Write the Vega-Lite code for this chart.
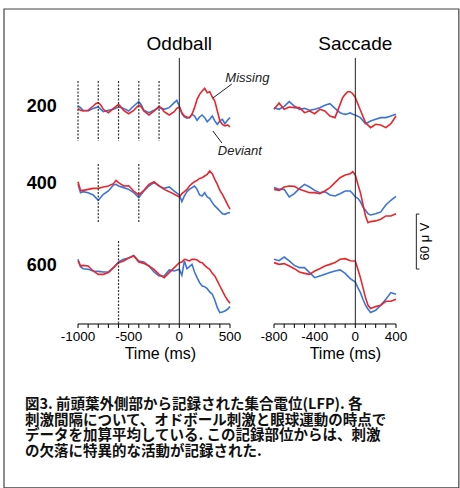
{
"$schema":"https://vega.github.io/schema/vega-lite/v6.json",
"padding":0,
"background":"white",
"spacing":44,
"bounds":"flush",
"config":{"view":{"stroke":null},"font":"Liberation Sans"},
"datasets":{
"o200":[
{"t":-1000,"m":-1.5,"d":1.1},{"t":-975,"m":-3.6,"d":-0.7},{"t":-950,"m":-4.4,"d":-3.6},{"t":-900,"m":-3.6,"d":-4.4},{"t":-850,"m":1.1,"d":-1.5},{"t":-825,"m":3.6,"d":-0.7},{"t":-800,"m":4.7,"d":0},{"t":-775,"m":2.2,"d":-2.5},{"t":-750,"m":-2.5,"d":-5.1},{"t":-700,"m":-6.2,"d":-3.6},{"t":-650,"m":-1.5,"d":-2.5},{"t":-600,"m":2.9,"d":0},{"t":-575,"m":0,"d":-0.7},{"t":-550,"m":-3.6,"d":-1.5},{"t":-500,"m":-7.3,"d":-4.4},{"t":-450,"m":-3.6,"d":1.1},{"t":-400,"m":2.2,"d":5.8},{"t":-375,"m":0,"d":2.2},{"t":-350,"m":-4.4,"d":-3.6},{"t":-300,"m":-8.7,"d":-6.2},{"t":-250,"m":-4.4,"d":-3.6},{"t":-200,"m":0.7,"d":-0.7},{"t":-175,"m":-1.5,"d":-1.5},{"t":-150,"m":-5.1,"d":-2.5},{"t":-100,"m":-8.7,"d":-0.7},{"t":-50,"m":-5.1,"d":4.7},{"t":-25,"m":-1.5,"d":7.3},{"t":0,"m":0,"d":1.1},{"t":25,"m":-6.2,"d":-7.3},{"t":50,"m":-9.8,"d":-10.9},{"t":75,"m":-10.9,"d":-12.3},{"t":100,"m":-11.6,"d":-11.6},{"t":125,"m":-8.0,"d":-8.0},{"t":150,"m":-0.7,"d":-9.8},{"t":175,"m":8.3,"d":-14.5},{"t":200,"m":13.8,"d":-10.9},{"t":225,"m":17.4,"d":-8.7},{"t":250,"m":20.3,"d":-11.6},{"t":275,"m":15.6,"d":-16.0},{"t":300,"m":16.7,"d":-13.4},{"t":325,"m":10.9,"d":-9.8},{"t":350,"m":6.5,"d":-15.2},{"t":375,"m":-4.4,"d":-18.9},{"t":400,"m":-15.2,"d":-15.2},{"t":425,"m":-18.9,"d":-13.4},{"t":450,"m":-20.7,"d":-18.2},{"t":475,"m":-19.6,"d":-14.5},{"t":500,"m":-21.8,"d":-11.6}],
"o400":[
{"t":-1000,"m":8.0,"d":5.1},{"t":-975,"m":-1.5,"d":-4.0},{"t":-950,"m":-1.5,"d":-2.9},{"t":-900,"m":-0.4,"d":-4.0},{"t":-850,"m":0.7,"d":-6.5},{"t":-800,"m":0.7,"d":-12.3},{"t":-750,"m":2.2,"d":-5.8},{"t":-700,"m":3.3,"d":-2.2},{"t":-650,"m":5.8,"d":4.4},{"t":-625,"m":9.4,"d":5.1},{"t":-600,"m":6.9,"d":3.3},{"t":-550,"m":3.3,"d":1.5},{"t":-500,"m":3.6,"d":-0.4},{"t":-450,"m":-2.2,"d":-4.0},{"t":-400,"m":-6.5,"d":-9.4},{"t":-350,"m":-1.5,"d":-2.2},{"t":-300,"m":5.1,"d":3.3},{"t":-250,"m":8.0,"d":6.9},{"t":-200,"m":3.3,"d":3.3},{"t":-150,"m":-0.4,"d":0.7},{"t":-100,"m":-2.9,"d":2.2},{"t":-50,"m":-5.8,"d":-2.2},{"t":0,"m":-8.7,"d":-6.5},{"t":25,"m":-5.1,"d":-13.8},{"t":50,"m":-2.9,"d":-7.6},{"t":75,"m":-0.4,"d":-2.9},{"t":100,"m":3.3,"d":-0.4},{"t":125,"m":5.8,"d":1.5},{"t":150,"m":8.0,"d":3.3},{"t":175,"m":9.4,"d":-0.4},{"t":200,"m":11.6,"d":-6.5},{"t":225,"m":12.3,"d":-7.6},{"t":250,"m":14.2,"d":-4.0},{"t":275,"m":16.0,"d":-8.7},{"t":300,"m":19.6,"d":-10.2},{"t":325,"m":16.7,"d":-14.9},{"t":350,"m":10.5,"d":-18.5},{"t":375,"m":5.1,"d":-21.1},{"t":400,"m":-1.5,"d":-24.0},{"t":425,"m":-5.8,"d":-26.9},{"t":450,"m":-11.3,"d":-27.6},{"t":475,"m":-16.7,"d":-26.1},{"t":500,"m":-22.1,"d":-25.8}],
"o600":[
{"t":-1000,"m":3.3,"d":5.1},{"t":-975,"m":-2.2,"d":-2.9},{"t":-950,"m":-1.5,"d":-5.1},{"t":-900,"m":-2.2,"d":-5.8},{"t":-850,"m":-7.6,"d":-7.6},{"t":-800,"m":-11.3,"d":-8.0},{"t":-750,"m":-11.3,"d":-8.7},{"t":-700,"m":-9.4,"d":-8.7},{"t":-650,"m":-4.0,"d":-4.0},{"t":-600,"m":1.5,"d":2.2},{"t":-550,"m":3.3,"d":5.1},{"t":-500,"m":6.5,"d":6.5},{"t":-450,"m":8.7,"d":9.4},{"t":-400,"m":2.2,"d":3.3},{"t":-350,"m":0.7,"d":2.2},{"t":-300,"m":-2.2,"d":-2.2},{"t":-250,"m":-5.8,"d":-8.7},{"t":-200,"m":-11.3,"d":-13.1},{"t":-150,"m":-14.9,"d":-13.1},{"t":-100,"m":-9.4,"d":-6.5},{"t":-50,"m":-4.0,"d":-7.6},{"t":0,"m":1.5,"d":-5.8},{"t":25,"m":2.2,"d":-12.3},{"t":50,"m":5.1,"d":3.3},{"t":75,"m":4.4,"d":-5.1},{"t":100,"m":3.3,"d":-2.9},{"t":125,"m":5.1,"d":-0.4},{"t":150,"m":5.1,"d":-8.7},{"t":175,"m":4.4,"d":-14.9},{"t":200,"m":2.2,"d":-20.3},{"t":225,"m":1.5,"d":-24.0},{"t":250,"m":-1.5,"d":-24.7},{"t":275,"m":-4.0,"d":-26.9},{"t":300,"m":-5.8,"d":-30.5},{"t":325,"m":-10.2,"d":-33.0},{"t":350,"m":-13.1,"d":-39.2},{"t":375,"m":-18.5,"d":-47.6},{"t":400,"m":-24.0,"d":-53.0},{"t":425,"m":-29.4,"d":-52.3},{"t":450,"m":-34.8,"d":-51.2},{"t":475,"m":-39.2,"d":-49.4},{"t":500,"m":-42.8,"d":-46.5}],
"s200":[
{"t":-800,"m":-2.5,"d":-0.7},{"t":-750,"m":4.4,"d":-2.5},{"t":-700,"m":-2.5,"d":0.7},{"t":-650,"m":0,"d":5.8},{"t":-600,"m":-0.7,"d":1.1},{"t":-550,"m":-0.7,"d":-2.5},{"t":-500,"m":-6.2,"d":-1.5},{"t":-450,"m":-4.4,"d":-3.6},{"t":-400,"m":-7.3,"d":-2.5},{"t":-350,"m":-2.5,"d":-0.7},{"t":-300,"m":-4.4,"d":1.8},{"t":-250,"m":-9.8,"d":3.6},{"t":-200,"m":-11.6,"d":-1.5},{"t":-150,"m":2.9,"d":-6.2},{"t":-125,"m":10.2,"d":-7.3},{"t":-100,"m":13.8,"d":-8.0},{"t":-75,"m":16.7,"d":-7.3},{"t":-50,"m":16.7,"d":-6.5},{"t":-25,"m":14.5,"d":-8.0},{"t":0,"m":10.2,"d":-8.7},{"t":50,"m":-3.6,"d":-11.6},{"t":100,"m":-17.1,"d":-18.2},{"t":150,"m":-22.5,"d":-15.2},{"t":200,"m":-18.9,"d":-13.4},{"t":250,"m":-19.6,"d":-11.6},{"t":300,"m":-22.5,"d":-11.6},{"t":350,"m":-18.2,"d":-9.8},{"t":400,"m":-9.8,"d":-8.0}],
"s400":[
{"t":-800,"m":-0.4,"d":1.5},{"t":-750,"m":-1.5,"d":-0.4},{"t":-700,"m":2.2,"d":-0.4},{"t":-650,"m":3.3,"d":-8.7},{"t":-600,"m":2.9,"d":-5.1},{"t":-550,"m":-0.4,"d":0.7},{"t":-500,"m":-2.2,"d":5.1},{"t":-450,"m":-4.0,"d":2.2},{"t":-400,"m":-4.0,"d":-1.5},{"t":-350,"m":-5.1,"d":-4.0},{"t":-300,"m":-2.2,"d":-2.9},{"t":-250,"m":1.5,"d":-6.5},{"t":-200,"m":6.9,"d":-7.6},{"t":-150,"m":12.3,"d":-5.1},{"t":-100,"m":15.2,"d":-2.2},{"t":-50,"m":16.7,"d":-2.2},{"t":-25,"m":18.9,"d":-5.1},{"t":0,"m":15.2,"d":-8.7},{"t":25,"m":5.1,"d":-10.2},{"t":50,"m":-4.0,"d":-13.8},{"t":75,"m":-16.7,"d":-19.6},{"t":100,"m":-29.4,"d":-23.2},{"t":125,"m":-36.7,"d":-26.9},{"t":150,"m":-35.6,"d":-28.3},{"t":200,"m":-34.8,"d":-26.9},{"t":250,"m":-33.0,"d":-25.0},{"t":300,"m":-29.4,"d":-17.4},{"t":350,"m":-29.4,"d":-12.3},{"t":400,"m":-26.9,"d":-8.0}],
"s600":[
{"t":-800,"m":1.5,"d":5.1},{"t":-750,"m":-0.4,"d":3.6},{"t":-700,"m":0.4,"d":7.6},{"t":-650,"m":-2.2,"d":3.3},{"t":-600,"m":-5.1,"d":-1.5},{"t":-550,"m":-8.7,"d":-4.0},{"t":-500,"m":-10.2,"d":-4.0},{"t":-450,"m":-11.3,"d":-9.4},{"t":-400,"m":-7.6,"d":-14.9},{"t":-350,"m":-5.1,"d":-13.1},{"t":-300,"m":-2.2,"d":-11.3},{"t":-250,"m":-0.4,"d":-9.4},{"t":-200,"m":1.5,"d":-7.6},{"t":-150,"m":5.1,"d":-6.5},{"t":-100,"m":5.8,"d":-10.2},{"t":-50,"m":3.6,"d":-16.0},{"t":0,"m":3.3,"d":-19.6},{"t":25,"m":-5.8,"d":-25.8},{"t":50,"m":-14.9,"d":-31.2},{"t":75,"m":-25.8,"d":-38.5},{"t":100,"m":-36.7,"d":-45.0},{"t":125,"m":-45.0,"d":-49.4},{"t":150,"m":-48.6,"d":-53.0},{"t":200,"m":-46.5,"d":-50.5},{"t":250,"m":-45.0,"d":-45.0},{"t":300,"m":-40.7,"d":-38.5},{"t":350,"m":-40.7,"d":-31.2},{"t":400,"m":-38.5,"d":-33.0}],
"oddTicks":[{"t":-1000},{"t":-900},{"t":-800},{"t":-700},{"t":-600},{"t":-500},{"t":-400},{"t":-300},{"t":-200},{"t":-100},{"t":0},{"t":100},{"t":200},{"t":300},{"t":400},{"t":500}],
"sacTicks":[{"t":-800},{"t":-700},{"t":-600},{"t":-500},{"t":-400},{"t":-300},{"t":-200},{"t":-100},{"t":0},{"t":100},{"t":200},{"t":300},{"t":400}],
"oddLabels":[{"t":-1000,"lab":"-1000"},{"t":-500,"lab":"-500"},{"t":0,"lab":"0"},{"t":500,"lab":"500"}],
"sacLabels":[{"t":-800,"lab":"-800"},{"t":-400,"lab":"-400"},{"t":0,"lab":"0"},{"t":400,"lab":"400"}]
},
"hconcat":[
{
"width":152,"height":315,
"layer":[
{"data":{"name":"o200"},"mark":{"type":"line","color":"#3b73d9","strokeWidth":1.6},"encoding":{"x":{"field":"t","type":"quantitative","scale":{"domain":[-1000,500],"nice":false,"zero":false},"axis":null},"y":{"field":"d","type":"quantitative","scale":{"domain":[-50,50],"range":[143.83,52.17],"nice":false,"zero":false},"axis":null}}},
{"data":{"name":"o200"},"mark":{"type":"line","color":"#e8262b","strokeWidth":1.6},"encoding":{"x":{"field":"t","type":"quantitative","axis":null},"y":{"field":"m","type":"quantitative","scale":{"domain":[-50,50],"range":[143.83,52.17],"nice":false,"zero":false},"axis":null}}},
{"data":{"name":"o400"},"mark":{"type":"line","color":"#3b73d9","strokeWidth":1.6},"encoding":{"x":{"field":"t","type":"quantitative","axis":null},"y":{"field":"d","type":"quantitative","scale":{"domain":[-50,50],"range":[225.83,134.17],"nice":false,"zero":false},"axis":null}}},
{"data":{"name":"o400"},"mark":{"type":"line","color":"#e8262b","strokeWidth":1.6},"encoding":{"x":{"field":"t","type":"quantitative","axis":null},"y":{"field":"m","type":"quantitative","scale":{"domain":[-50,50],"range":[225.83,134.17],"nice":false,"zero":false},"axis":null}}},
{"data":{"name":"o600"},"mark":{"type":"line","color":"#3b73d9","strokeWidth":1.6},"encoding":{"x":{"field":"t","type":"quantitative","axis":null},"y":{"field":"d","type":"quantitative","scale":{"domain":[-50,50],"range":[300.83,209.17],"nice":false,"zero":false},"axis":null}}},
{"data":{"name":"o600"},"mark":{"type":"line","color":"#e8262b","strokeWidth":1.6},"encoding":{"x":{"field":"t","type":"quantitative","axis":null},"y":{"field":"m","type":"quantitative","scale":{"domain":[-50,50],"range":[300.83,209.17],"nice":false,"zero":false},"axis":null}}},
{"data":{"values":[{"t":-1000},{"t":-800},{"t":-600},{"t":-400},{"t":-200}]},"mark":{"type":"rule","color":"#333","strokeDash":[2,1.5],"strokeWidth":1.2},"encoding":{"x":{"field":"t","type":"quantitative","axis":null},"y":{"datum":28.4,"scale":{"domain":[-50,50],"range":[143.83,52.17],"nice":false,"zero":false},"axis":null},"y2":{"datum":-37.1}}},
{"data":{"values":[{"t":-800},{"t":-400}]},"mark":{"type":"rule","color":"#333","strokeDash":[2,1.5],"strokeWidth":1.2},"encoding":{"x":{"field":"t","type":"quantitative","axis":null},"y":{"datum":27.3,"scale":{"domain":[-50,50],"range":[225.83,134.17],"nice":false,"zero":false},"axis":null},"y2":{"datum":-37.1}}},
{"data":{"values":[{"t":-600}]},"mark":{"type":"rule","color":"#333","strokeDash":[2,1.5],"strokeWidth":1.2},"encoding":{"x":{"field":"t","type":"quantitative","axis":null},"y":{"datum":25.1,"scale":{"domain":[-50,50],"range":[300.83,209.17],"nice":false,"zero":false},"axis":null},"y2":{"datum":-65.5}}},
{"data":{"values":[{"t":0}]},"mark":{"type":"rule","color":"#222","strokeWidth":1},"encoding":{"x":{"field":"t","type":"quantitative","axis":null},"y":{"datum":53.5,"scale":{"domain":[-50,50],"range":[143.83,52.17],"nice":false,"zero":false},"axis":null},"y2":{"datum":-236.7}}},
{"data":{"values":[{"a":1}]},"mark":{"type":"rule","color":"#ffffff","strokeWidth":1},"encoding":{"x":{"datum":-1764.8,"axis":null},"x2":{"datum":-1754.9},"y":{"datum":115.1,"scale":{"domain":[-50,50],"range":[143.83,52.17],"nice":false,"zero":false},"axis":null}}},
{"data":{"values":[{"a":1}]},"mark":{"type":"rect","filled":false,"stroke":"#444","strokeWidth":1.2},"encoding":{"x":{"datum":-1730.3,"axis":null},"x2":{"datum":2758.2},"y":{"datum":106.9,"scale":{"domain":[-50,50],"range":[143.83,52.17],"nice":false,"zero":false},"axis":null},"y2":{"datum":-415.6}}},
{"data":{"values":[{"a":1}]},"mark":{"type":"rule","color":"#000","strokeWidth":1},"encoding":{"x":{"datum":-1000,"axis":null},"x2":{"datum":500},"y":{"datum":-65.45,"scale":{"domain":[-50,50],"range":[300.83,209.17],"nice":false,"zero":false},"axis":null}}},
{"data":{"name":"oddTicks"},"mark":{"type":"rule","color":"#000","strokeWidth":1},"encoding":{"x":{"field":"t","type":"quantitative","axis":null},"y":{"datum":-65.45,"scale":{"domain":[-50,50],"range":[300.83,209.17],"nice":false,"zero":false},"axis":null},"y2":{"datum":-69.8}}},
{"data":{"name":"oddLabels"},"mark":{"type":"text","fontSize":13.5,"align":"center","baseline":"middle","color":"#000"},"encoding":{"x":{"field":"t","type":"quantitative","axis":null},"y":{"datum":-79.6,"scale":{"domain":[-50,50],"range":[300.83,209.17],"nice":false,"zero":false},"axis":null},"text":{"field":"lab"}}},
{"data":{"values":[{"s":"Time (ms)"}]},"mark":{"type":"text","fontSize":16,"align":"center","baseline":"middle","color":"#000"},"encoding":{"x":{"datum":-187.5,"axis":null},"y":{"datum":-98.2,"scale":{"domain":[-50,50],"range":[300.83,209.17],"nice":false,"zero":false},"axis":null},"text":{"field":"s"}}},
{"data":{"values":[{"s":"Oddball"}]},"mark":{"type":"text","fontSize":19,"align":"center","baseline":"middle"},"encoding":{"x":{"datum":0,"axis":null},"y":{"datum":68.7,"scale":{"domain":[-50,50],"range":[143.83,52.17],"nice":false,"zero":false},"axis":null},"text":{"field":"s"}}},
{"data":{"values":[{"s":"200"}]},"mark":{"type":"text","fontSize":18,"fontWeight":"bold","align":"right","baseline":"middle"},"encoding":{"x":{"datum":-1209,"axis":null},"y":{"datum":0,"scale":{"domain":[-50,50],"range":[143.83,52.17],"nice":false,"zero":false},"axis":null},"text":{"field":"s"}}},
{"data":{"values":[{"s":"400"}]},"mark":{"type":"text","fontSize":18,"fontWeight":"bold","align":"right","baseline":"middle"},"encoding":{"x":{"datum":-1209,"axis":null},"y":{"datum":5.1,"scale":{"domain":[-50,50],"range":[225.83,134.17],"nice":false,"zero":false},"axis":null},"text":{"field":"s"}}},
{"data":{"values":[{"s":"600"}]},"mark":{"type":"text","fontSize":18,"fontWeight":"bold","align":"right","baseline":"middle"},"encoding":{"x":{"datum":-1209,"axis":null},"y":{"datum":-2.2,"scale":{"domain":[-50,50],"range":[300.83,209.17],"nice":false,"zero":false},"axis":null},"text":{"field":"s"}}},
{"data":{"values":[{"s":"Missing"}]},"mark":{"type":"text","fontSize":13,"fontStyle":"italic","align":"center","baseline":"middle","color":"#222"},"encoding":{"x":{"datum":671,"axis":null},"y":{"datum":31.6,"scale":{"domain":[-50,50],"range":[143.83,52.17],"nice":false,"zero":false},"axis":null},"text":{"field":"s"}}},
{"data":{"values":[{"s":"Deviant"}]},"mark":{"type":"text","fontSize":13,"fontStyle":"italic","align":"center","baseline":"middle","color":"#222"},"encoding":{"x":{"datum":597,"axis":null},"y":{"datum":-48,"scale":{"domain":[-50,50],"range":[143.83,52.17],"nice":false,"zero":false},"axis":null},"text":{"field":"s"}}},
{"data":{"values":[{"a":1}]},"mark":{"type":"rule","color":"#222","strokeWidth":1},"encoding":{"x":{"datum":331,"axis":null},"x2":{"datum":518},"y":{"datum":9.8,"scale":{"domain":[-50,50],"range":[143.83,52.17],"nice":false,"zero":false},"axis":null},"y2":{"datum":25.1}}},
{"data":{"values":[{"a":1}]},"mark":{"type":"rule","color":"#222","strokeWidth":1},"encoding":{"x":{"datum":331,"axis":null},"x2":{"datum":420},"y":{"datum":-26.2,"scale":{"domain":[-50,50],"range":[143.83,52.17],"nice":false,"zero":false},"axis":null},"y2":{"datum":-39.3}}},
{"data":{"values":[{"a":1}]},"mark":{"type":"text","text":["図3. 前頭葉外側部から記録された集合電位(LFP). 各","刺激間隔について、オドボール刺激と眼球運動の時点で","データを加算平均している. この記録部位からは、刺激","の欠落に特異的な活動が記録された."],"font":"Noto Sans CJK JP","fontSize":14.5,"fontWeight":"bold","lineHeight":15.5,"align":"left","baseline":"top","color":"#111"},"encoding":{"x":{"datum":-1523,"axis":null},"y":{"datum":-146.7,"scale":{"domain":[-50,50],"range":[300.83,209.17],"nice":false,"zero":false},"axis":null}}}
],
"resolve":{"scale":{"y":"independent"},"axis":{"y":"independent"}}
},
{
"width":122,"height":315,
"layer":[
{"data":{"name":"s200"},"mark":{"type":"line","color":"#3b73d9","strokeWidth":1.6},"encoding":{"x":{"field":"t","type":"quantitative","scale":{"domain":[-800,400],"nice":false,"zero":false},"axis":null},"y":{"field":"d","type":"quantitative","scale":{"domain":[-50,50],"range":[143.83,52.17],"nice":false,"zero":false},"axis":null}}},
{"data":{"name":"s200"},"mark":{"type":"line","color":"#e8262b","strokeWidth":1.6},"encoding":{"x":{"field":"t","type":"quantitative","axis":null},"y":{"field":"m","type":"quantitative","scale":{"domain":[-50,50],"range":[143.83,52.17],"nice":false,"zero":false},"axis":null}}},
{"data":{"name":"s400"},"mark":{"type":"line","color":"#3b73d9","strokeWidth":1.6},"encoding":{"x":{"field":"t","type":"quantitative","axis":null},"y":{"field":"d","type":"quantitative","scale":{"domain":[-50,50],"range":[225.83,134.17],"nice":false,"zero":false},"axis":null}}},
{"data":{"name":"s400"},"mark":{"type":"line","color":"#e8262b","strokeWidth":1.6},"encoding":{"x":{"field":"t","type":"quantitative","axis":null},"y":{"field":"m","type":"quantitative","scale":{"domain":[-50,50],"range":[225.83,134.17],"nice":false,"zero":false},"axis":null}}},
{"data":{"name":"s600"},"mark":{"type":"line","color":"#3b73d9","strokeWidth":1.6},"encoding":{"x":{"field":"t","type":"quantitative","axis":null},"y":{"field":"d","type":"quantitative","scale":{"domain":[-50,50],"range":[300.83,209.17],"nice":false,"zero":false},"axis":null}}},
{"data":{"name":"s600"},"mark":{"type":"line","color":"#e8262b","strokeWidth":1.6},"encoding":{"x":{"field":"t","type":"quantitative","axis":null},"y":{"field":"m","type":"quantitative","scale":{"domain":[-50,50],"range":[300.83,209.17],"nice":false,"zero":false},"axis":null}}},
{"data":{"values":[{"t":0}]},"mark":{"type":"rule","color":"#222","strokeWidth":1},"encoding":{"x":{"field":"t","type":"quantitative","axis":null},"y":{"datum":53.5,"scale":{"domain":[-50,50],"range":[143.83,52.17],"nice":false,"zero":false},"axis":null},"y2":{"datum":-236.7}}},
{"data":{"values":[{"a":1}]},"mark":{"type":"rule","color":"#000","strokeWidth":1},"encoding":{"x":{"datum":-800,"axis":null},"x2":{"datum":400},"y":{"datum":-65.45,"scale":{"domain":[-50,50],"range":[300.83,209.17],"nice":false,"zero":false},"axis":null}}},
{"data":{"name":"sacTicks"},"mark":{"type":"rule","color":"#000","strokeWidth":1},"encoding":{"x":{"field":"t","type":"quantitative","axis":null},"y":{"datum":-65.45,"scale":{"domain":[-50,50],"range":[300.83,209.17],"nice":false,"zero":false},"axis":null},"y2":{"datum":-69.8}}},
{"data":{"name":"sacLabels"},"mark":{"type":"text","fontSize":13.5,"align":"center","baseline":"middle","color":"#000"},"encoding":{"x":{"field":"t","type":"quantitative","axis":null},"y":{"datum":-79.6,"scale":{"domain":[-50,50],"range":[300.83,209.17],"nice":false,"zero":false},"axis":null},"text":{"field":"lab"}}},
{"data":{"values":[{"s":"Time (ms)"}]},"mark":{"type":"text","fontSize":16,"align":"center","baseline":"middle","color":"#000"},"encoding":{"x":{"datum":-98.4,"axis":null},"y":{"datum":-98.2,"scale":{"domain":[-50,50],"range":[300.83,209.17],"nice":false,"zero":false},"axis":null},"text":{"field":"s"}}},
{"data":{"values":[{"s":"Saccade"}]},"mark":{"type":"text","fontSize":19,"align":"center","baseline":"middle"},"encoding":{"x":{"datum":0,"axis":null},"y":{"datum":68.7,"scale":{"domain":[-50,50],"range":[143.83,52.17],"nice":false,"zero":false},"axis":null},"text":{"field":"s"}}},
{"data":{"values":[{"a":1}]},"mark":{"type":"rule","color":"#222","strokeWidth":1},"encoding":{"x":{"datum":600,"axis":null},"y":{"datum":-27.3,"scale":{"domain":[-50,50],"range":[225.83,134.17],"nice":false,"zero":false},"axis":null},"y2":{"datum":-87.3}}},
{"data":{"values":[{"v":-27.3},{"v":-87.3}]},"mark":{"type":"rule","color":"#222","strokeWidth":1},"encoding":{"x":{"datum":600,"axis":null},"x2":{"datum":630},"y":{"field":"v","type":"quantitative","scale":{"domain":[-50,50],"range":[225.83,134.17],"nice":false,"zero":false},"axis":null}}},
{"data":{"values":[{"s":"60 μ V"}]},"mark":{"type":"text","fontSize":13,"angle":270,"align":"center","baseline":"middle"},"encoding":{"x":{"datum":690,"axis":null},"y":{"datum":-57.3,"scale":{"domain":[-50,50],"range":[225.83,134.17],"nice":false,"zero":false},"axis":null},"text":{"field":"s"}}}
],
"resolve":{"scale":{"y":"independent"},"axis":{"y":"independent"}}
}
]
}
